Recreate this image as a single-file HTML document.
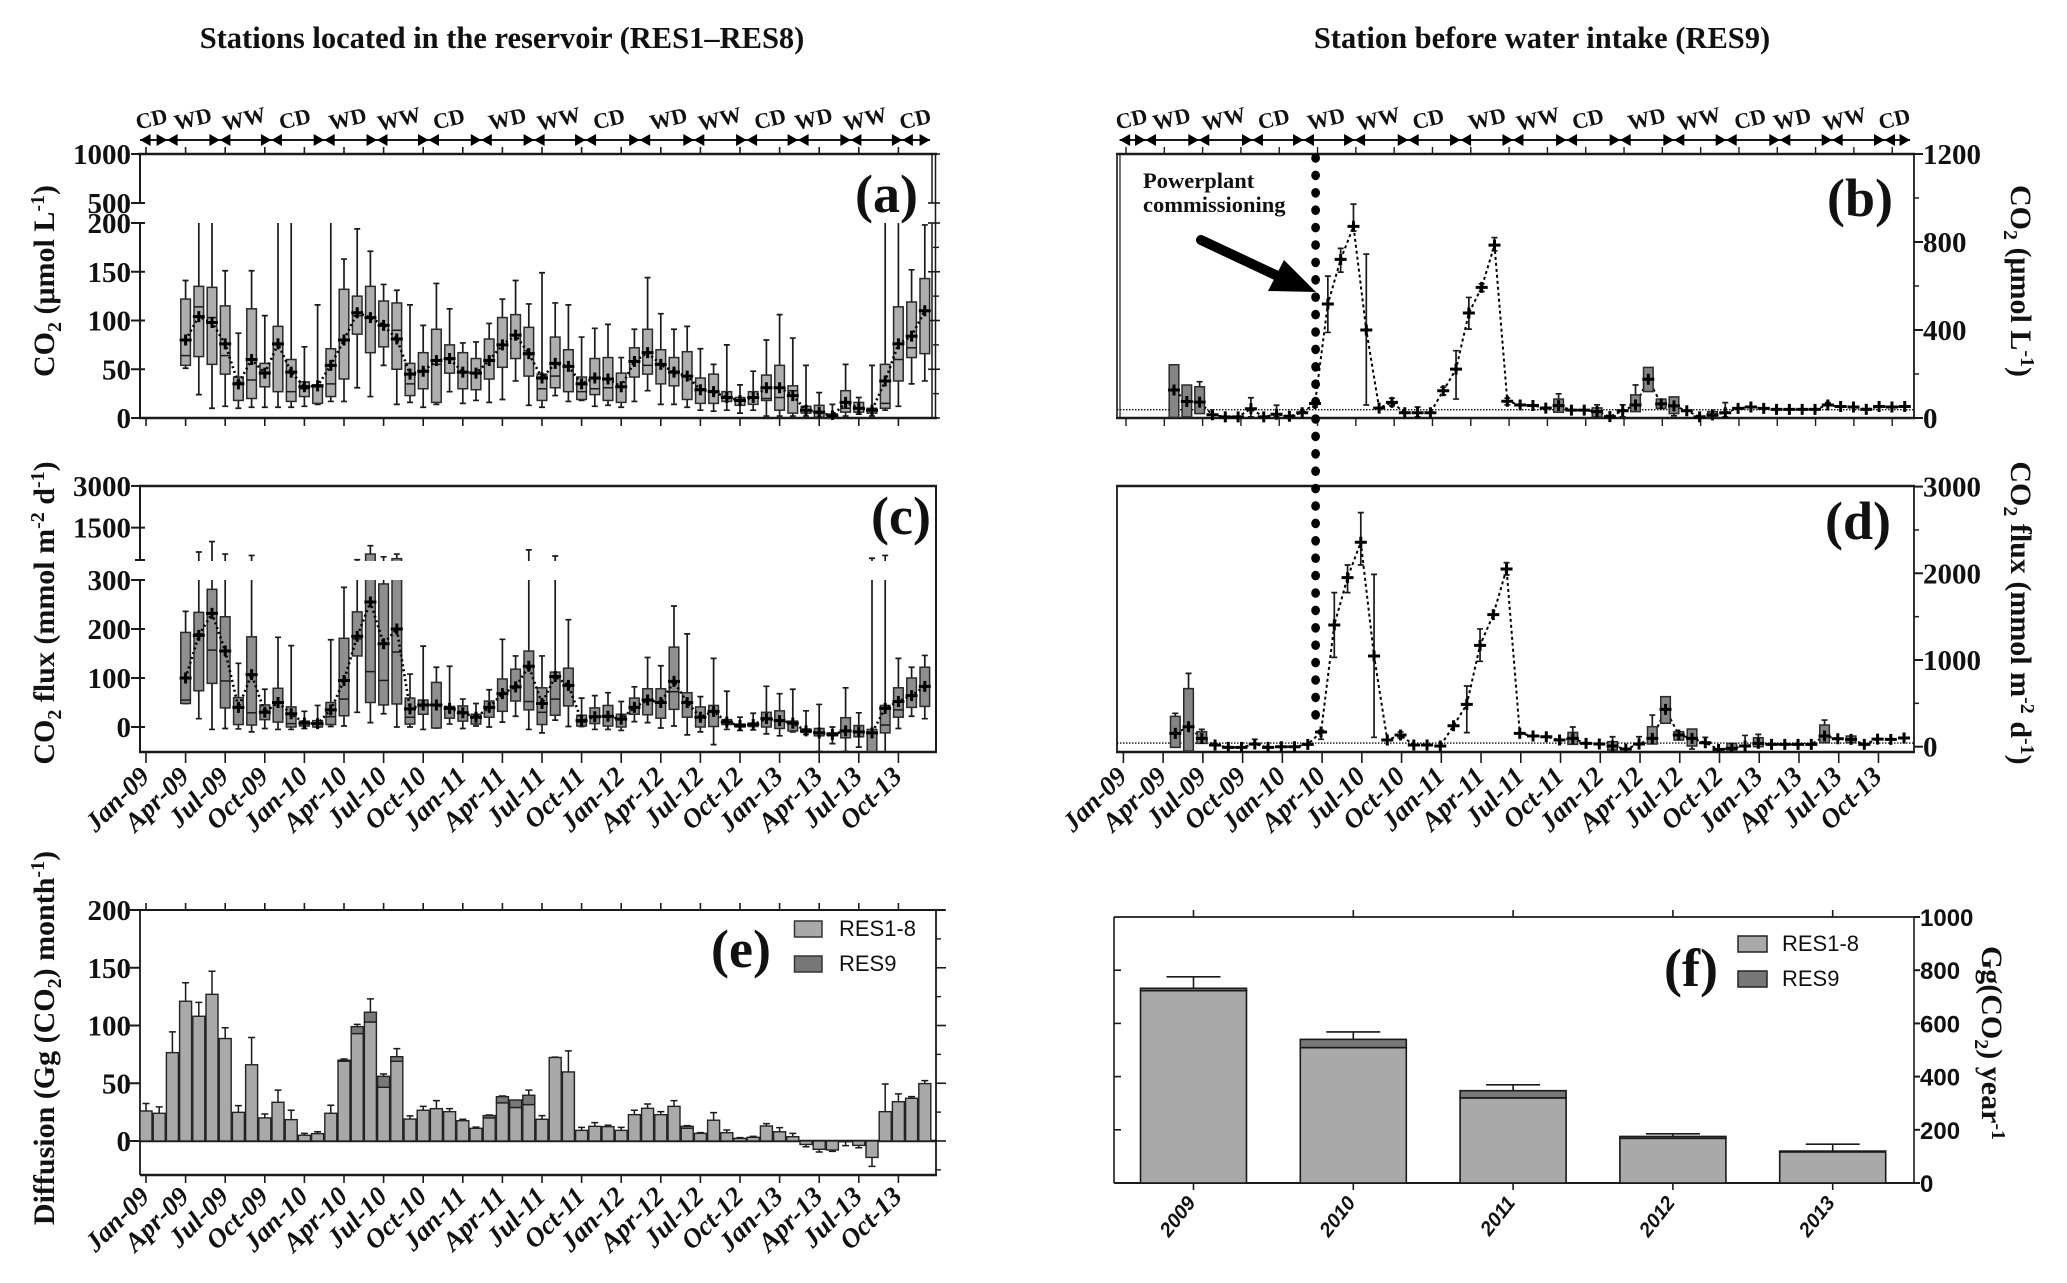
<!DOCTYPE html>
<html lang="en">
<head>
<meta charset="utf-8">
<title>CO2 concentrations, fluxes and diffusion</title>
<style>
html,body{margin:0;padding:0;background:#fff;}
svg{display:block;}
text{font-family:"Liberation Serif",serif;fill:#111;}
.tt{font-weight:bold;font-size:30.5px;}
.yt{font-weight:bold;font-size:29px;}
.ax{font-weight:bold;font-size:30px;}
.pl{font-weight:bold;font-size:54px;}
.an{font-weight:bold;font-size:22.5px;}
.lg{font-family:"Liberation Sans",sans-serif;font-size:22px;}
</style>
</head>
<body>
<svg id="chart" xmlns="http://www.w3.org/2000/svg" width="2067" height="1283" viewBox="0 0 2067 1283">
<defs>
<clipPath id="clipA"><rect x="139" y="223" width="797" height="197"/></clipPath>
<clipPath id="clipC"><rect x="139" y="486" width="797" height="75"/><rect x="139" y="580" width="797" height="172"/></clipPath>
<clipPath id="clipD"><rect x="1117" y="486" width="797" height="266"/></clipPath>
</defs>
<text class="tt" x="502" y="48" text-anchor="middle">Stations located in the reservoir (RES1–RES8)</text>
<text class="tt" x="1542" y="48" text-anchor="middle">Station before water intake (RES9)</text>

<text class="ax" transform="translate(54,281) rotate(-90)" text-anchor="middle">CO<tspan font-size="20" dy="7">2</tspan><tspan dy="-7"> (μmol L</tspan><tspan font-size="20" dy="-10">-1</tspan><tspan dy="10">)</tspan></text>
<text class="ax" transform="translate(54,613) rotate(-90)" text-anchor="middle">CO<tspan font-size="20" dy="7">2</tspan><tspan dy="-7"> flux (mmol m</tspan><tspan font-size="20" dy="-10">-2</tspan><tspan dy="10"> d</tspan><tspan font-size="20" dy="-10">-1</tspan><tspan dy="10">)</tspan></text>
<text class="ax" transform="translate(54,1038) rotate(-90)" text-anchor="middle">Diffusion (Gg (CO<tspan font-size="20" dy="7">2</tspan><tspan dy="-7">) month</tspan><tspan font-size="20" dy="-10">-1</tspan><tspan dy="10">)</tspan></text>
<text class="ax" transform="translate(2011,281) rotate(90)" text-anchor="middle">CO<tspan font-size="20" dy="7">2</tspan><tspan dy="-7"> (μmol L</tspan><tspan font-size="20" dy="-10">-1</tspan><tspan dy="10">)</tspan></text>
<text class="ax" transform="translate(2011,613) rotate(90)" text-anchor="middle">CO<tspan font-size="20" dy="7">2</tspan><tspan dy="-7"> flux (mmol m</tspan><tspan font-size="20" dy="-10">-2</tspan><tspan dy="10"> d</tspan><tspan font-size="20" dy="-10">-1</tspan><tspan dy="10">)</tspan></text>
<text class="ax" transform="translate(1982,1043) rotate(90)" text-anchor="middle">Gg(CO<tspan font-size="20" dy="7">2</tspan><tspan dy="-7">) year</tspan><tspan font-size="20" dy="-10">-1</tspan></text>

<text class="pl" x="855" y="212">(a)</text>
<text class="pl" x="1827" y="216">(b)</text>
<text class="pl" x="871" y="534">(c)</text>
<text class="pl" x="1825" y="539">(d)</text>
<text class="pl" x="711" y="967">(e)</text>
<text class="pl" x="1664" y="986">(f)</text>

<text class="an" x="1143" y="188">Powerplant</text>
<text class="an" x="1143" y="212">commissioning</text>
<g>
<line x1="1201" y1="240" x2="1284" y2="279" stroke="#000" stroke-width="10" stroke-linecap="round"/>
<polygon points="1316,292 1268,291 1284,260" fill="#000"/>
</g>

<g>
<rect x="794.5" y="921" width="27.5" height="16" fill="#a9a9a9" stroke="#333" stroke-width="1.5"/>
<text class="lg" x="839" y="936">RES1-8</text>
<rect x="794.5" y="956" width="27.5" height="16" fill="#787878" stroke="#333" stroke-width="1.5"/>
<text class="lg" x="839" y="971">RES9</text>
</g>
<g>
<rect x="1738" y="936" width="29" height="16" fill="#a9a9a9" stroke="#222" stroke-width="1.5"/>
<text class="lg" x="1782" y="951">RES1-8</text>
<rect x="1738" y="971" width="29" height="16" fill="#787878" stroke="#222" stroke-width="1.5"/>
<text class="lg" x="1782" y="986">RES9</text>
</g>

<script>
// ---------- shared categories ----------
const quarterLabels = ['Jan-09','Apr-09','Jul-09','Oct-09','Jan-10','Apr-10','Jul-10','Oct-10','Jan-11','Apr-11','Jul-11','Oct-11','Jan-12','Apr-12','Jul-12','Oct-12','Jan-13','Apr-13','Jul-13','Oct-13'];
const seasonNames = ['CD','WD','WW','CD','WD','WW','CD','WD','WW','CD','WD','WW','CD','WD','WW','CD'];
// season positions are expressed in months since Jan-09
const seasonBoundsLeft = [-0.45,1.6,5.6,9.5,13.5,17.5,21.4,25.4,29.4,33.3,37.4,41.5,45.5,49.4,53.4,57.3,59.4];
const seasonLabelMonthsLeft = [0.54,3.68,7.55,11.4,15.4,19.3,23.07,27.5,31.4,35.2,39.7,43.6,47.4,50.7,54.6,58.4];
const seasonBoundsRight = [-0.5,1.53,5.7,9.9,13.9,17.9,22.1,26.2,30.3,34.5,38.7,42.9,47,51.2,55.3,59.4,61.4];
const seasonLabelMonthsRight = [0.56,3.7,7.8,11.7,15.8,19.9,23.8,28.4,32.4,36.3,40.9,45,49,52.3,56.4,60.3];

// ---------- panel a: CO2 reservoir, Apr-09 .. Dec-13 ----------
const aStartMonth = 3;
const aLow = [51,24,10,12,10,11,11,11,11,12,14,17,17,31,22,54,14,16,11,14,27,15,18,16,19,38,13,11,23,17,18,12,13,11,17,28,14,14,11,8,7,8,5,8,2,2,2,2,0,0,2,4,2,8,12,35,38];
const aQ1 = [54,63,55,45,18,20,32,27,17,22,15,22,40,86,67,73,50,23,30,16,46,30,29,40,52,61,43,18,31,27,19,24,18,16,42,45,35,33,19,15,15,17,13,14,18,8,5,5,1,0,6,6,5,10,38,62,66];
const aMedian = [64,114,103,64,36,39,47,75,27,30,32,35,80,105,103,95,90,35,48,55,60,47,46,60,75,85,65,30,43,53,27,30,31,32,58,54,55,48,43,30,27,21,18,21,20,21,28,8,5,2,10,10,8,15,60,72,110];
const aQ3 = [122,135,134,115,42,112,56,94,60,37,34,71,132,125,135,120,118,56,67,91,75,67,61,81,103,106,93,45,83,70,42,61,62,46,72,91,70,62,68,41,45,27,21,27,44,54,33,12,13,4,28,16,10,55,114,119,143];
const aHigh = [141,320,320,151,87,151,105,320,320,73,116,320,163,194,171,137,131,116,95,138,112,77,78,97,122,141,117,149,118,116,83,92,96,62,91,144,107,91,94,71,55,75,34,48,80,106,82,54,26,14,55,21,54,320,320,152,198];
const aMean = [80,104,98,76,35,60,46,76,47,32,33,54,80,108,103,95,81,45,48,59,61,47,46,59,75,85,66,41,56,53,35,41,40,32,58,67,55,47,43,29,27,21,18,21,31,31,23,8,6,2,16,10,8,38,76,84,110];
const aTicks = [0,50,100,150,200,500,1000];
const aMinorTicks = [25,75,125,175];

// ---------- panel c: CO2 flux reservoir ----------
const cLow = [48,17,-5,-3,-4,-10,-3,-5,-5,-3,0,1,2,30,9,27,0,0,-5,-2,6,-3,2,0,10,22,-5,-12,14,1,1,-5,-5,-7,11,9,-2,2,-16,-10,-36,-5,-7,-6,-14,-18,-10,-15,-50,-34,-50,-41,-80,-80,-3,22,17];
const cQ1 = [48,74,89,39,5,4,15,10,0,2,0,5,23,145,50,45,47,6,26,-2,18,12,6,20,32,53,35,5,24,43,2,7,2,0,26,25,18,36,20,0,1,5,0,1,0,-3,-8,-11,-18,-18,-22,-20,-50,-12,20,40,42];
const cMedian = [55,190,157,94,40,29,30,50,7,8,7,21,57,180,113,95,153,20,45,45,38,30,20,38,68,82,52,30,57,85,10,20,20,15,40,55,50,72,50,20,33,10,3,5,15,12,7,-8,-12,-15,-8,-10,-12,4,35,65,83];
const cQ3 = [193,234,281,225,60,184,45,79,41,12,13,50,181,235,550,292,383,59,55,91,42,43,26,53,98,118,155,80,112,120,24,39,44,26,59,78,78,163,70,41,44,15,6,8,30,33,12,-4,-3,-12,19,3,-5,44,80,100,122];
const cHigh = [236,624,1000,550,130,500,77,183,166,32,44,178,285,345,850,450,550,108,165,122,124,57,48,76,179,145,700,145,480,219,59,64,70,52,82,142,125,247,190,62,140,73,20,28,83,68,77,33,46,0,80,29,400,500,140,122,146];
const cMean = [100,187,232,155,40,107,30,50,27,8,7,35,95,185,255,170,200,37,45,45,38,29,20,40,68,82,124,48,103,85,13,21,22,16,40,55,50,93,50,20,32,10,3,5,17,13,8,-8,-12,-15,-8,-10,-12,38,52,64,83];
const cTicks = [0,100,200,300,1500,3000];

// ---------- panel b: CO2 at RES9 ----------
const bMean = [127,75,72,15,5,5,42,5,17,8,24,66,518,721,871,400,45,71,24,24,24,124,222,477,594,786,76,59,57,45,56,36,36,29,6,33,59,176,64,55,33,5,14,24,44,50,44,39,39,39,39,59,52,50,39,52,50,52];
const bLow = [null,null,null,null,null,null,5,null,5,null,null,50,389,663,850,59,null,55,null,5,null,105,86,404,575,760,60,null,null,null,null,null,null,null,null,5,null,null,null,10,null,null,null,5,null,null,null,null,null,null,null,null,null,null,null,null,null,null];
const bHigh = [null,null,165,null,null,null,92,null,58,null,30,85,645,771,972,745,null,90,null,50,null,140,306,548,610,820,90,null,null,null,110,null,null,60,null,60,150,null,null,null,null,null,null,70,null,null,null,null,null,null,null,70,null,null,null,null,null,null];
const bQ1 = [3,5,20,null,null,null,null,null,null,null,null,null,null,null,null,null,null,null,null,null,null,null,null,null,null,null,null,null,null,null,26,null,null,5,null,null,29,120,44,20,null,null,5,null,null,null,null,null,null,null,null,null,null,null,null,null,null,null];
const bQ3 = [242,150,142,null,null,null,null,null,null,null,null,null,null,null,null,null,null,null,null,null,null,null,null,null,null,null,null,null,null,null,86,null,null,46,null,null,105,230,86,96,null,null,29,null,null,null,null,null,null,null,null,null,null,null,null,null,null,null];
const bReference = 38;
const bTicks = [0,400,800,1200];
const bMinorTicks = [200,600,1000];
const bTickMonths = 20;

// ---------- panel d: CO2 flux at RES9 ----------
const dMean = [154,230,96,19,-8,-8,31,-8,0,0,27,169,1404,1950,2358,1046,77,135,19,19,8,242,488,1169,1523,2050,154,123,115,77,96,38,31,8,-27,31,96,430,135,96,46,-31,-19,8,38,27,27,27,27,123,92,85,27,88,85,100];
const dLow = [null,null,null,null,null,null,null,null,null,null,null,85,1030,1777,2096,108,null,100,null,null,null,null,162,985,null,1980,null,null,null,null,null,null,null,null,null,null,null,null,null,-27,null,null,null,null,null,null,null,null,null,null,null,null,null,null,null,null];
const dHigh = [385,846,200,null,null,null,85,null,null,null,null,190,1777,2096,2700,1988,null,170,null,null,null,null,700,1358,null,2123,null,null,null,null,227,null,null,115,null,115,365,null,null,null,108,null,null,130,142,null,null,null,null,307,null,null,null,null,null,null];
const dQ1 = [-8,-50,38,null,null,null,null,null,null,null,null,null,null,null,null,null,null,null,null,null,null,null,null,null,null,null,null,null,null,null,27,null,null,-38,null,null,31,270,77,8,null,null,-50,null,0,null,null,null,null,46,null,46,null,null,null,null];
const dQ3 = [350,670,173,null,null,null,null,null,null,null,null,null,null,null,null,null,null,null,null,null,null,null,null,null,null,null,null,null,null,null,165,null,null,58,null,null,231,577,173,204,null,null,38,null,104,null,null,null,null,250,null,123,null,null,null,null];
const dReference = 42;
const dTicks = [0,1000,2000,3000];
const dMinorTicks = [500,1500,2500];

// ---------- panel e: monthly diffusion, Jan-09 .. Dec-13 ----------
const eRes18 = [26,24,76.5,121,108,127,88.7,24.8,66,20,33.5,18.5,5,6.4,24,69,93,103,46.5,69,19,26.6,28,25.4,17.6,11,20,33,29,31.5,18.8,72.3,59.8,9.2,12.7,12.4,9.2,22.8,28.3,22.8,30,11,6.6,18,7.2,2.3,3.2,13,8,3.7,-3,-7.2,-7.8,-0.5,-3.8,-14.2,25.4,34,37,49.7];
const eRes9 = [0,0,0,0,0,0,0,0,0,0,0,0,0,0,0,1,6,8.5,9.5,4,0,0,0,0,0,0,2,5.4,6.5,8.1,0,0,0,0,0,0,0,0,0,0,0,1.7,0,0,0,0,0,0,0,0,0,0,0,0,0,0,0,0,0,0];
const eErrorEnd = [32.5,29.5,94.5,137,120,147,98,30.6,89.6,23.4,44,26.6,6.6,8,31,71,101,123,58,80,21.7,30,35,28,18.8,12,22.5,39,35.5,44,22,72.6,78,11.8,15.9,13.6,11.8,26.6,32,25.4,35,13.3,7.2,24.6,9.5,2.9,4,15,11.6,6.6,-5,-9.5,-9,-4,-5.8,-22,49.4,40.8,38.4,52.3];
const eTicks = [0,50,100,150,200];
const eMinorTicks = [-25,25,75,125,175];

// ---------- panel f: yearly diffusion ----------
const fYears = ['2009','2010','2011','2012','2013'];
const fRes18 = [723,509,320,168,117];
const fRes9 = [9,31,27,7,3];
const fErrorEnd = [775,568,369,185,146];
const fTicks = [0,200,400,600,800,1000];

// ---------- axis functions ----------
const xA = m => 146 + 13.2 * m;
const xTickB = m => 1126 + 12.77 * m;
const xPointB = i => 1174 + 12.82 * i;
const xTickD = q => 1123.4 + 39.74 * q;
const xPointD = i => 1175.3 + 13.25 * i;
const xF = i => 1193.5 + 159.8 * i;
const yA = v => v <= 200 ? 418 - v * 0.975 : (v <= 500 ? 223 - (v - 200) * 0.0667 : 203 - (v - 500) * 0.098);
const yC = v => v <= 300 ? 727 - v * 0.49 : 561 - (v - 300) * 0.0278;
const yB = v => 418 - v * 0.22;
const yD = v => 746.7 - v * 0.0867;
const yE = v => 1141 - v * 1.155;
const yF = v => 1183 - v * 0.266;

const NS = 'http://www.w3.org/2000/svg';
const svg = document.getElementById('chart');
function mk(tag, attrs, parent) {
  const e = document.createElementNS(NS, tag);
  for (const k in attrs) e.setAttribute(k, attrs[k]);
  (parent || svg).appendChild(e);
  return e;
}
const INK = '#1a1a1a';

function group(name, clip) {
  const g = mk('g', clip ? {'clip-path': 'url(#' + clip + ')'} : {});
  
  
  return g;
}
function seg(g, x1, y1, x2, y2, w, name) {
  const l = mk('line', {x1, y1, x2, y2, stroke: INK, 'stroke-width': w || 1.6}, g);
  
  
  return l;
}
function label(g, x, y, str, cls, anchor, name, extra) {
  const t = mk('text', Object.assign({x, y, class: cls, 'text-anchor': anchor}, extra || {}), g);
  t.textContent = str;
  
  
  return t;
}
function plotBox(g, x, y, low, q1, med, q3, high, mean, fill, name) {
  if (low !== null || high !== null) {
    const hi = high !== null ? high : (q3 !== null ? q3 : mean);
    const lo = low !== null ? low : (q1 !== null ? q1 : mean);
    const wh = mk('path', {d: 'M' + x + ' ' + y(lo) + 'V' + y(hi) +
      (high !== null ? 'M' + (x - 3) + ' ' + y(high) + 'H' + (x + 3) : '') +
      (low !== null ? 'M' + (x - 3) + ' ' + y(low) + 'H' + (x + 3) : ''),
      stroke: INK, 'stroke-width': 1.7, fill: 'none'}, g);
    
    
  }
  if (q1 !== null && q3 !== null) {
    const r = mk('rect', {x: x - 4.8, y: y(q3), width: 9.6, height: Math.max(y(q1) - y(q3), 1), fill, stroke: '#2a2a2a', 'stroke-width': 1.5}, g);
    
    
  }
  if (med !== null) {
    seg(g, x - 4.8, y(med), x + 4.8, y(med), 1.5, name + '-median');
  }
}
function plusMark(g, x, y, name) {
  const p = mk('path', {d: 'M' + (x - 6) + ' ' + y + 'H' + (x + 6) + 'M' + x + ' ' + (y - 5.5) + 'V' + (y + 5.5), stroke: '#000', 'stroke-width': 3, fill: 'none'}, g);
  
  
}
function meanLine(g, xs, ys, name, dash, w) {
  const pl = mk('polyline', {points: xs.map((x, i) => x + ',' + ys[i]).join(' '), fill: 'none', stroke: '#000', 'stroke-width': w, 'stroke-dasharray': dash}, g);
  
  
}
function seasons(xMonth, bounds, labelMonths, panel) {
  const g = group(panel + '-season-bar');
  seg(g, xMonth(bounds[0]), 140, xMonth(bounds[bounds.length - 1]), 140, 2, panel + '-season-line');
  bounds.forEach((b, i) => {
    const x = xMonth(b);
    if (i > 0) {
      const t = mk('polygon', {points: (x - 10.5) + ',134 ' + x + ',140 ' + (x - 10.5) + ',146', fill: '#000'}, g);
      
      
    }
    if (i < bounds.length - 1) {
      const t = mk('polygon', {points: (x + 10.5) + ',134 ' + x + ',140 ' + (x + 10.5) + ',146', fill: '#000'}, g);
      
      
    }
  });
  labelMonths.forEach((m, i) => {
    const x = xMonth(m);
    const t = mk('text', {transform: 'translate(' + x + ',126) rotate(-13)', 'text-anchor': 'middle', 'font-size': 22, 'font-weight': 'bold'}, g);
    t.textContent = seasonNames[i];
    
    
  });
}
function monthLabels(g, xOf, y) {
  quarterLabels.forEach((s, q) => {
    const t = mk('text', {transform: 'translate(' + (xOf(q) + 5) + ',' + y + ') rotate(-45)', 'text-anchor': 'end', 'font-size': 27, 'font-weight': 'bold', 'font-style': 'italic'}, g);
    t.textContent = s;
    
    
  });
}

// ---------- panel a ----------
{
  const ax = group('panel-a-axes');
  seg(ax, 138, 154, 937, 154, 2.4, 'panel-a-top-axis');
  seg(ax, 139, 418, 937, 418, 2.4, 'panel-a-bottom-axis');
  seg(ax, 140, 154, 140, 203, 2, 'panel-a-left-axis-upper');
  seg(ax, 140, 223, 140, 418, 2, 'panel-a-left-axis-lower');
  seg(ax, 932, 154, 932, 203, 1.5, 'panel-a-right-axis-upper');
  seg(ax, 932, 223, 932, 418, 1.5, 'panel-a-right-axis-lower');
  seg(ax, 935.5, 154, 935.5, 418, 1.5, 'panel-a-right-axis-outer');
  quarterLabels.forEach((s, q) => {
    seg(ax, xA(q * 3), 147, xA(q * 3), 154, 1.6, 'panel-a-top-tick');
    seg(ax, xA(q * 3), 418, xA(q * 3), 426, 1.6, 'panel-a-bottom-tick');
  });
  aTicks.forEach(v => {
    seg(ax, 131, yA(v), 145, yA(v), 2, 'panel-a-y-tick');
    seg(ax, 928, yA(v), 940, yA(v), 1.6, 'panel-a-right-tick');
    label(ax, 131, yA(v) + 10, String(v), 'yt', 'end', 'panel-a-y-tick-label');
  });
  aMinorTicks.forEach(v => {
    seg(ax, 933, yA(v), 939, yA(v), 1.4, 'panel-a-right-minor-tick');
  });
  seasons(xA, seasonBoundsLeft, seasonLabelMonthsLeft, 'panel-a');
  const g = group('panel-a-marks', 'clipA');
  aMean.forEach((v, i) => {
    plotBox(g, xA(aStartMonth + i), yA, aLow[i], aQ1[i], aMedian[i], aQ3[i], aHigh[i], v, '#aeaeae', 'panel-a');
  });
  meanLine(g, aMean.map((v, i) => xA(aStartMonth + i)), aMean.map(yA), 'panel-a-mean-line', '2 3', 2.6);
  aMean.forEach((v, i) => {
    plusMark(g, xA(aStartMonth + i), yA(v), 'panel-a-mean-marker');
  });
}

// ---------- panel c ----------
{
  const ax = group('panel-c-axes');
  seg(ax, 139, 486, 937, 486, 2.4, 'panel-c-top-axis');
  seg(ax, 139, 752, 937, 752, 2.4, 'panel-c-bottom-axis');
  seg(ax, 140, 486, 140, 560, 2, 'panel-c-left-axis-upper');
  seg(ax, 140, 580, 140, 752, 2, 'panel-c-left-axis-lower');
  seg(ax, 936, 486, 936, 752, 2, 'panel-c-right-axis');
  seg(ax, 135, 560, 145, 560, 2, 'panel-c-axis-break-tick');
  quarterLabels.forEach((s, q) => {
    seg(ax, xA(q * 3), 752, xA(q * 3), 763, 1.6, 'panel-c-bottom-tick');
  });
  cTicks.forEach(v => {
    seg(ax, 131, yC(v), 145, yC(v), 2, 'panel-c-y-tick');
    label(ax, 131, yC(v) + 10, String(v), 'yt', 'end', 'panel-c-y-tick-label');
  });
  monthLabels(ax, q => xA(q * 3), 778);
  const g = group('panel-c-marks', 'clipC');
  cMean.forEach((v, i) => {
    plotBox(g, xA(aStartMonth + i), yC, cLow[i], cQ1[i], cMedian[i], cQ3[i], cHigh[i], v, '#8f8f8f', 'panel-c');
  });
  meanLine(g, cMean.map((v, i) => xA(aStartMonth + i)), cMean.map(yC), 'panel-c-mean-line', '2 3', 2.6);
  cMean.forEach((v, i) => {
    plusMark(g, xA(aStartMonth + i), yC(v), 'panel-c-mean-marker');
  });
}

// ---------- panel b ----------
{
  const ax = group('panel-b-axes');
  seg(ax, 1116, 154, 1915, 154, 2.4, 'panel-b-top-axis');
  seg(ax, 1116, 418, 1915, 418, 2.4, 'panel-b-bottom-axis');
  seg(ax, 1117, 154, 1117, 418, 1.6, 'panel-b-left-axis');
  seg(ax, 1120, 154, 1120, 418, 1.2, 'panel-b-left-axis-inner');
  seg(ax, 1914, 154, 1914, 418, 1.8, 'panel-b-right-axis');
  for (let q = 0; q <= bTickMonths; q++) {
    seg(ax, xTickB(q * 3), 147, xTickB(q * 3), 154, 1.4, 'panel-b-top-tick');
    seg(ax, xTickB(q * 3), 418, xTickB(q * 3), 426, 1.4, 'panel-b-bottom-tick');
  }
  bTicks.forEach(v => {
    seg(ax, 1914, yB(v), 1923, yB(v), 2, 'panel-b-y-tick');
    label(ax, 1923, yB(v) + 10, String(v), 'yt', 'start', 'panel-b-y-tick-label');
  });
  bMinorTicks.forEach(v => {
    seg(ax, 1914, yB(v), 1919, yB(v), 1.5, 'panel-b-minor-tick');
  });
  seasons(xTickB, seasonBoundsRight, seasonLabelMonthsRight, 'panel-b');
  const ref = mk('line', {x1: 1117, x2: 1914, y1: yB(bReference), y2: yB(bReference), stroke: '#111', 'stroke-width': 1.4, 'stroke-dasharray': '1.5 1.5'});
  
  
  const g = group('panel-b-marks');
  meanLine(g, bMean.map((v, i) => xPointB(i)), bMean.map(yB), 'panel-b-mean-line', '3 3', 2);
  bMean.forEach((v, i) => {
    plotBox(g, xPointB(i), yB, bLow[i], bQ1[i], null, bQ3[i], bHigh[i], v, '#858585', 'panel-b');
  });
  bMean.forEach((v, i) => {
    plusMark(g, xPointB(i), yB(v), 'panel-b-mean-marker');
  });
}

// ---------- panel d ----------
{
  const ax = group('panel-d-axes');
  seg(ax, 1116, 486, 1915, 486, 2.4, 'panel-d-top-axis');
  seg(ax, 1116, 752, 1915, 752, 2.4, 'panel-d-bottom-axis');
  seg(ax, 1117, 486, 1117, 752, 1.8, 'panel-d-left-axis');
  seg(ax, 1914, 486, 1914, 752, 1.8, 'panel-d-right-axis');
  quarterLabels.forEach((s, q) => {
    seg(ax, xTickD(q), 752, xTickD(q), 763, 1.6, 'panel-d-bottom-tick');
  });
  dTicks.forEach(v => {
    seg(ax, 1914, yD(v), 1923, yD(v), 2, 'panel-d-y-tick');
    label(ax, 1923, yD(v) + 10, String(v), 'yt', 'start', 'panel-d-y-tick-label');
  });
  dMinorTicks.forEach(v => {
    seg(ax, 1914, yD(v), 1919, yD(v), 1.5, 'panel-d-minor-tick');
  });
  monthLabels(ax, xTickD, 778);
  const ref = mk('line', {x1: 1117, x2: 1914, y1: yD(dReference), y2: yD(dReference), stroke: '#111', 'stroke-width': 1.4, 'stroke-dasharray': '1.5 1.5'});
  
  
  const g = group('panel-d-marks', 'clipD');
  meanLine(g, dMean.map((v, i) => xPointD(i)), dMean.map(yD), 'panel-d-mean-line', '3 3', 2);
  dMean.forEach((v, i) => {
    plotBox(g, xPointD(i), yD, dLow[i], dQ1[i], null, dQ3[i], dHigh[i], v, '#858585', 'panel-d');
  });
  dMean.forEach((v, i) => {
    plusMark(g, xPointD(i), yD(v), 'panel-d-mean-marker');
  });
}

// ---------- commissioning dotted line ----------
{
  const g = group('commissioning-dotted-line');
  for (let n = 0; n < 33; n++) {
    const c = mk('ellipse', {cx: 1315.6, cy: 158 + 17.4 * n, rx: 4.4, ry: 4.8, fill: '#000'}, g);
    
    
  }
}

// ---------- panel e ----------
{
  const ax = group('panel-e-axes');
  const g = group('panel-e-bars');
  eRes18.forEach((v, i) => {
    const x = xA(i);
    const top = v + eRes9[i];
    if (eErrorEnd[i] !== top) {
      const w = mk('path', {d: 'M' + x + ' ' + yE(top) + 'V' + yE(eErrorEnd[i]) + 'M' + (x - 3.5) + ' ' + yE(eErrorEnd[i]) + 'H' + (x + 3.5), stroke: INK, 'stroke-width': 1.5, fill: 'none'}, g);
      
      
    }
    const r = mk('rect', {x: x - 6, y: Math.min(yE(v), yE(0)), width: 12, height: Math.abs(yE(v) - yE(0)), fill: '#a9a9a9', stroke: '#222', 'stroke-width': 1.4}, g);
    
    
    if (eRes9[i] > 0) {
      const d = mk('rect', {x: x - 6, y: yE(top), width: 12, height: yE(v) - yE(top), fill: '#787878', stroke: '#222', 'stroke-width': 1.4}, g);
      
      
    }
  });
  seg(ax, 140, 910, 945, 910, 2, 'panel-e-top-axis');
  seg(ax, 140, 1175, 937, 1175, 2.4, 'panel-e-bottom-axis');
  seg(ax, 140, 910, 140, 1175, 1.8, 'panel-e-left-axis');
  seg(ax, 936, 910, 936, 1175, 1.8, 'panel-e-right-axis');
  seg(ax, 140, yE(0), 936, yE(0), 2.4, 'panel-e-zero-line');
  quarterLabels.forEach((s, q) => {
    seg(ax, xA(q * 3), 903, xA(q * 3), 910, 1.6, 'panel-e-top-tick');
    seg(ax, xA(q * 3), 1175, xA(q * 3), 1183, 1.6, 'panel-e-bottom-tick');
  });
  eTicks.forEach(v => {
    seg(ax, 130, yE(v), 140, yE(v), 2, 'panel-e-y-tick');
    seg(ax, 936, yE(v), 946, yE(v), 1.6, 'panel-e-right-tick');
    label(ax, 131, yE(v) + 10, String(v), 'yt', 'end', 'panel-e-y-tick-label');
  });
  eMinorTicks.forEach(v => {
    seg(ax, 936, yE(v), 941, yE(v), 1.4, 'panel-e-right-minor-tick');
  });
  monthLabels(ax, q => xA(q * 3), 1198);
}

// ---------- panel f ----------
{
  const ax = group('panel-f-axes');
  const g = group('panel-f-bars');
  fRes18.forEach((v, i) => {
    const x = xF(i);
    const top = v + fRes9[i];
    const w = mk('path', {d: 'M' + x + ' ' + yF(top) + 'V' + yF(fErrorEnd[i]) + 'M' + (x - 27) + ' ' + yF(fErrorEnd[i]) + 'H' + (x + 27), stroke: INK, 'stroke-width': 1.6, fill: 'none'}, g);
    
    
    const r = mk('rect', {x: x - 53, y: yF(v), width: 106, height: yF(0) - yF(v), fill: '#a9a9a9', stroke: '#1a1a1a', 'stroke-width': 1.6}, g);
    
    
    const d = mk('rect', {x: x - 53, y: yF(top), width: 106, height: yF(v) - yF(top), fill: '#787878', stroke: '#1a1a1a', 'stroke-width': 1.6}, g);
    
    
    seg(ax, x, 910, x, 917, 1.6, 'panel-f-top-tick');
    seg(ax, x, 1183, x, 1190, 1.6, 'panel-f-bottom-tick');
    const t = mk('text', {transform: 'translate(' + (x + 3) + ',1203) rotate(-52)', 'text-anchor': 'end', 'font-size': 20, 'font-weight': 'bold', 'font-style': 'italic', style: 'font-family:"Liberation Sans",sans-serif'}, ax);
    t.textContent = fYears[i];
    
    
  });
  seg(ax, 1114, 917, 1914, 917, 1.8, 'panel-f-top-axis');
  seg(ax, 1114, 1183, 1914, 1183, 2, 'panel-f-bottom-axis');
  seg(ax, 1114, 917, 1114, 1183, 1.6, 'panel-f-left-axis');
  seg(ax, 1914, 917, 1914, 1183, 1.6, 'panel-f-right-axis');
  fTicks.forEach(v => {
    seg(ax, 1914, yF(v), 1920, yF(v), 2, 'panel-f-y-tick');
    if (v > 0 && v < 1000) {
      seg(ax, 1114, yF(v), 1121, yF(v), 1.6, 'panel-f-left-tick');
    }
    const t = label(ax, 1920, yF(v) + 9, String(v), 'yt', 'start', 'panel-f-y-tick-label');
    t.setAttribute('style', 'font-family:"Liberation Sans",sans-serif;font-size:24px');
  });
}
</script>
</svg>
</body>
</html>
